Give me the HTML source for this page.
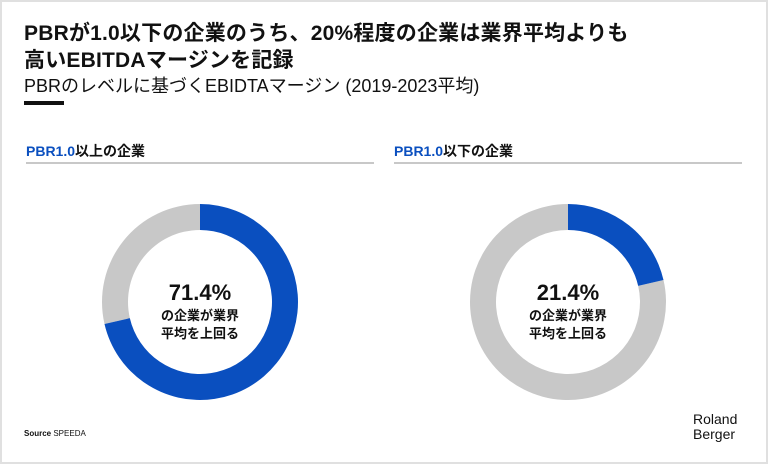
<!DOCTYPE html>
<html><head><meta charset="utf-8">
<style>
body{margin:0;width:768px;height:464px;overflow:hidden;background:#fff;font-family:"Liberation Sans","Noto Sans CJK JP",sans-serif;}
#frame{position:absolute;left:0;top:0;width:764px;height:460px;border:2px solid #e0e0e0;background:#fff;}
.t{position:absolute;white-space:nowrap;color:#111;}
</style></head><body>
<div id="frame"></div>
<div class="t" style="left:24px;top:20px;font-size:21px;font-weight:bold;line-height:27px;letter-spacing:0.2px;">PBRが1.0以下の企業のうち、20%程度の企業は業界平均よりも<br>高いEBITDAマージンを記録</div>
<div class="t" style="left:24px;top:72px;font-size:18px;">PBRのレベルに基づくEBIDTAマージン (2019-2023平均)</div>
<div style="position:absolute;left:24px;top:101px;width:40px;height:4px;background:#111;"></div>
<div class="t" style="left:26px;top:141px;font-size:14px;font-weight:bold;"><span style="color:#0a4fbf">PBR1.0</span>以上の企業</div>
<div style="position:absolute;left:26px;top:162px;width:348px;height:2px;background:#c8c8c8;"></div>
<div class="t" style="left:394px;top:141px;font-size:14px;font-weight:bold;"><span style="color:#0a4fbf">PBR1.0</span>以下の企業</div>
<div style="position:absolute;left:394px;top:162px;width:348px;height:2px;background:#c8c8c8;"></div>
<svg id="svg" width="768" height="464" style="position:absolute;left:0;top:0"></svg>
<div class="t" style="left:24px;top:429px;font-size:8px;"><b>Source</b> SPEEDA</div>
<div class="t" style="left:693px;top:412px;font-size:14px;line-height:15px;">Roland<br>Berger</div>
<script>
const groups=["PBR1.0以上の企業","PBR1.0以下の企業"];
const shares=[71.4,21.4];
const valueLabels=["71.4%","21.4%"];
const centersX=[200,568];
const cy=302,R=98,r=72;
const NS="http://www.w3.org/2000/svg";
const svg=document.getElementById('svg');
function pt(cx,rad,frac){const a=frac*2*Math.PI;return [cx+rad*Math.sin(a),cy-rad*Math.cos(a)];}
function arc(cx,f0,f1){
  const large=(f1-f0)>0.5?1:0;
  const [x0,y0]=pt(cx,R,f0),[x1,y1]=pt(cx,R,f1),[x2,y2]=pt(cx,r,f1),[x3,y3]=pt(cx,r,f0);
  return `M${x0},${y0}A${R},${R} 0 ${large} 1 ${x1},${y1}L${x2},${y2}A${r},${r} 0 ${large} 0 ${x3},${y3}Z`;
}
shares.forEach((s,i)=>{
  const cx=centersX[i],f=s/100;
  const g=document.createElementNS(NS,'path');
  g.setAttribute('d',arc(cx,f,0.99999));g.setAttribute('fill','#c8c8c8');
  
  
  svg.appendChild(g);
  const b=document.createElementNS(NS,'path');
  b.setAttribute('d',arc(cx,0,f));b.setAttribute('fill','#0a4fbf');
  
  
  svg.appendChild(b);
  const t=document.createElementNS(NS,'text');
  t.setAttribute('x',cx);t.setAttribute('y',cy-2);t.setAttribute('text-anchor','middle');
  t.setAttribute('font-size','22');t.setAttribute('font-weight','bold');t.setAttribute('fill','#111');
  t.setAttribute('font-family','"Liberation Sans","Noto Sans CJK JP",sans-serif');
  t.textContent=valueLabels[i];
  
  
  svg.appendChild(t);
  ["の企業が業界","平均を上回る"].forEach((line,j)=>{
    const l=document.createElementNS(NS,'text');
    l.setAttribute('x',cx);l.setAttribute('y',cy+18+j*18);l.setAttribute('text-anchor','middle');
    l.setAttribute('font-size','13');l.setAttribute('font-weight','bold');l.setAttribute('fill','#111');
    l.setAttribute('font-family','"Liberation Sans","Noto Sans CJK JP",sans-serif');
    l.textContent=line;
    
    
    svg.appendChild(l);
  });
});
</script>
</body></html>
